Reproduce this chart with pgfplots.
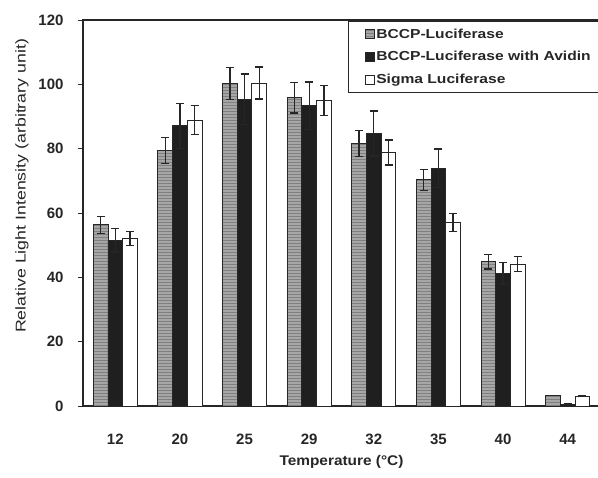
\documentclass[border=0pt]{standalone}
\usepackage{fontspec}
\setmainfont{Liberation Sans}
\newfontfamily\legfont[FakeStretch=1.2]{Liberation Sans}
\newfontfamily\ylabfont[FakeStretch=1.25]{Liberation Sans}
\newfontfamily\xlabfont[FakeStretch=1.1]{Liberation Sans}
\usepackage{pgfplots}
\pgfplotsset{compat=1.18}
\usepackage{pgfplotstable}
\usetikzlibrary{patterns}
\pgfplotstableread{
x v1 e1 v2 e2 v3 e3
0 56.3 2.6 51.5 3.6 52.1 2.2
1 79.4 4.0 87.1 7.0 88.9 4.5
2 100.2 5.0 95.4 7.8 100.4 5.0
3 95.8 4.7 93.3 7.4 94.9 4.7
4 81.6 4.0 84.7 7.0 78.8 3.9
5 70.3 3.3 73.9 6.0 57.1 2.8
6 44.9 2.3 41.2 3.5 44.1 2.3
7 3.3 0 0.6 0 3.1 0
}\datatable
\begin{document}
\begin{tikzpicture}[x=1pt,y=1pt]
\useasboundingbox (0,0) rectangle (598,478);
\begin{axis}[
  at={(83pt,72pt)}, anchor=south west,
  scale only axis, width=517pt, height=386pt,
  ybar=0pt, bar width=14.7pt,
  xmin=-0.5, xmax=7.5, ymin=0, ymax=120,
  xtick={0,...,7}, xticklabels={12,20,25,29,32,35,40,44},
  ytick={0,20,...,120},
  xtick style={draw=none},
  ytick pos=left, tick align=outside,
  major tick length=5pt,
  axis line style={line width=1.1pt, black!85},
  ytick style={line width=0.8pt, black!85},
  /pgf/number format/assume math mode=true,
  ticklabel style={font=\bfseries\fontsize{15}{16}\selectfont, text=black!85},
  xticklabel style={anchor=base, yshift=-33.5pt},
  yticklabel style={anchor=east, xshift=-11pt},
  ylabel={\ylabfont\fontsize{14.2}{15}\selectfont Relative Light Intensity (arbitrary unit)},
  ylabel style={at={(axis description cs:-0.118,0.57)}, anchor=center, text=black!85},
  xlabel={\xlabfont\bfseries\fontsize{14}{15}\selectfont Temperature (°C)},
  xlabel style={at={(axis description cs:0.5,-0.145)}, anchor=center, text=black!85},
  legend style={at={(rel axis cs:0.513,0.997)}, anchor=north west, draw=black!85, line width=1pt,
    font=\legfont\bfseries\fontsize{13}{14}\selectfont, text=black!85,
    inner xsep=16pt, inner ysep=5pt, row sep=8pt, cells={anchor=west}},
  legend image code/.code={\draw[#1, line width=0.6pt] (0pt,-4.5pt) rectangle (9pt,4.5pt);},
  error bars/y dir=both, error bars/y explicit,
  error bars/error bar style={line width=1.3pt, black!85},
  error bars/error mark options={rotate=90, mark size=4pt, line width=1.3pt, black!85},
]
\addplot[draw=black!85, line width=0.9pt, fill=black!35, postaction={pattern=horizontal lines, pattern color=black!50}]
  table[x=x, y=v1, y error=e1]{\datatable};
\addplot[draw=black!85, line width=0.9pt, fill=black!88]
  table[x=x, y=v2, y error=e2]{\datatable};
\addplot[draw=black!85, line width=0.9pt, fill=white]
  table[x=x, y=v3, y error=e3]{\datatable};
\legend{BCCP-Luciferase, BCCP-Luciferase with Avidin, Sigma Luciferase}
\end{axis}
\end{tikzpicture}
\end{document}
